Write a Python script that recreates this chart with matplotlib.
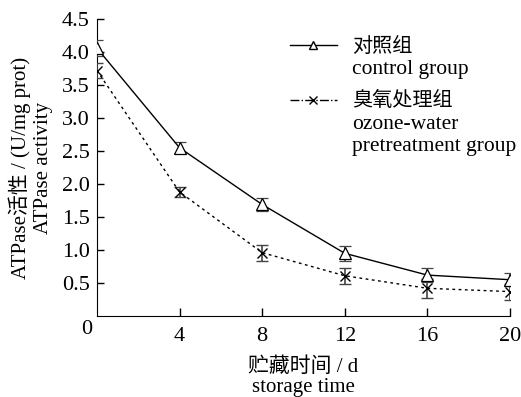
import matplotlib.pyplot as plt
from matplotlib.lines import Line2D

plt.rcParams['font.family'] = ['Liberation Serif', 'Noto Sans CJK SC']

days = [0, 4, 8, 12, 16, 20]
control = [4.06, 2.55, 1.69, 0.95, 0.62, 0.55]
control_err = [0.12, 0.08, 0.10, 0.11, 0.10, 0.10]
ozone = [3.72, 1.88, 0.96, 0.61, 0.42, 0.37]
ozone_err = [0.11, 0.07, 0.12, 0.12, 0.14, 0.12]
yticks = [0.5, 1.0, 1.5, 2.0, 2.5, 3.0, 3.5, 4.0, 4.5]
xticks = [4, 8, 12, 16, 20]
legend_cn = ['对照组', '臭氧处理组']
legend_en = [['control group'], ['ozone-water', 'pretreatment group']]

fig = plt.figure(figsize=(5.21, 3.97), dpi=100)
ax = fig.add_axes([0.186, 0.204, 0.793, 0.748])

ax.errorbar(days, control, yerr=control_err, color='black', lw=1.0,
            marker='^', mfc='white', mec='black', ms=8, mew=0.9,
            ecolor='#444444', elinewidth=1.2, capsize=4, capthick=1.2, zorder=3)
ax.errorbar(days, ozone, yerr=ozone_err, color='black', lw=1.0, ls=(0, (2, 2.5)),
            marker='x', ms=7, mew=1.0,
            ecolor='#444444', elinewidth=1.2, capsize=4, capthick=1.2, zorder=3)

ax.set_xlim(0, 20)
ax.set_ylim(0, 4.5)
ax.set_xticks(xticks)
ax.set_yticks(yticks)
ax.set_yticklabels([f"{v:.1f}" for v in yticks])
ax.tick_params(direction='in', length=5, width=1, labelsize=16)
ax.tick_params(axis='x', pad=8, length=6)
ax.tick_params(axis='y', pad=5)
ax.spines['top'].set_visible(False)
ax.spines['right'].set_visible(False)
ax.text(-0.012, -0.015, '0', transform=ax.transAxes, ha='right', va='top', fontsize=16)

ax.set_xlabel('贮藏时间 / d\nstorage time', fontsize=15, linespacing=1.05)
ax.xaxis.set_label_coords(0.5, -0.14)
ax.set_ylabel('ATPase活性 / (U/mg prot)\nATPase activity', fontsize=15, linespacing=1.2)
ax.yaxis.set_label_coords(-0.107, 0.5)

# hand-made legend: sample line beside the first text line of each entry
styles = [dict(ls='-', marker='^', mfc='white', mec='black', ms=6),
          dict(ls='-.', marker='x', ms=6)]
tops = [0.906, 0.721]
step = 0.075
for cn, en, st, y in zip(legend_cn, legend_en, styles, tops):
    ax.add_line(Line2D([0.467, 0.523, 0.581], [y + 0.006] * 3, transform=ax.transAxes,
                       color='black', lw=1.0, markevery=[1], clip_on=False, **st))
    ax.text(0.617, y, cn, transform=ax.transAxes, ha='left', va='center', fontsize=14.5)
    for i, line in enumerate(en, start=1):
        ax.text(0.617, y - step * i, line, transform=ax.transAxes, ha='left',
                va='center', fontsize=15.5)

fig.savefig('out.png', dpi=100)
